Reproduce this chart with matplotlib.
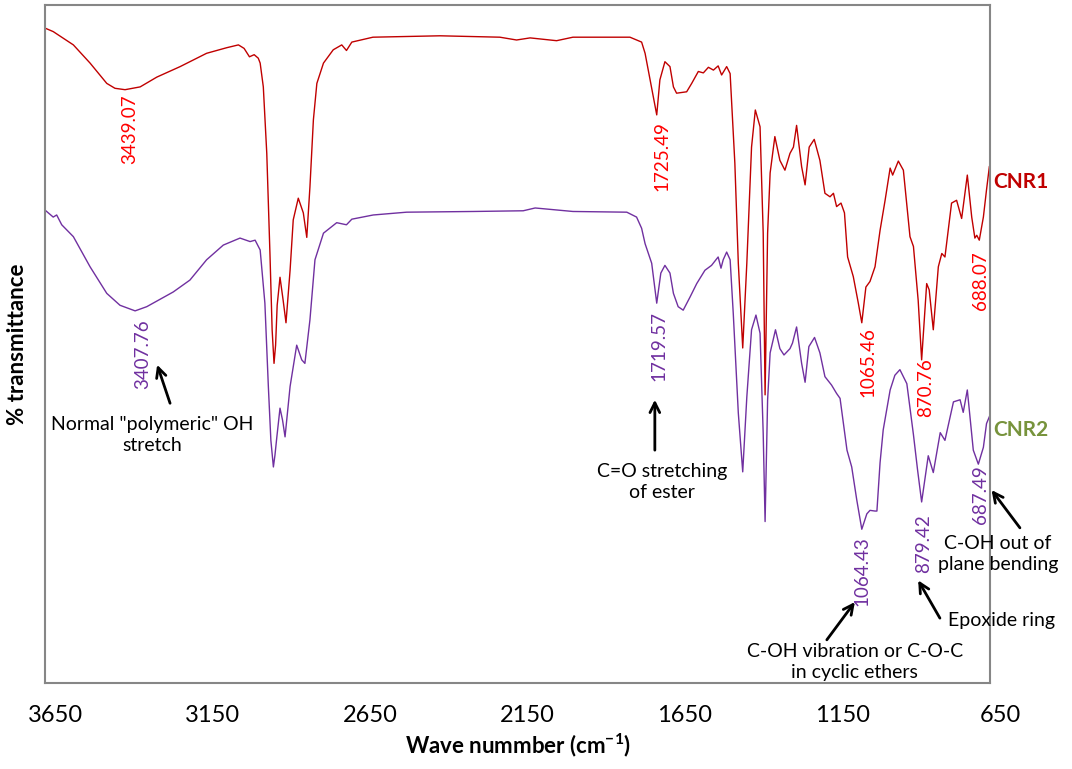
import matplotlib
matplotlib.use("Agg")
from matplotlib import pyplot as plt
from matplotlib.transforms import ScaledTranslation

plt.rcParams['font.family'] = ['Lato', 'DejaVu Sans']
plt.rcParams['mathtext.fontset'] = 'custom'
plt.rcParams['mathtext.rm'] = 'Lato'
plt.rcParams['mathtext.bf'] = 'Lato:bold'

# CNR1 spectrum (wavenumber cm-1, % transmittance, arbitrary offset)
cnr1_wn = [3650, 3624, 3560, 3507, 3454, 3428, 3396, 3348, 3295, 3221, 3137, 3073,
           3036, 3018, 3001, 2986, 2973, 2967, 2957, 2946, 2936, 2929, 2923, 2918,
           2913, 2904, 2894, 2885, 2872, 2862, 2846, 2830, 2819, 2809, 2798, 2787,
           2766, 2735, 2708, 2693, 2676, 2609, 2396, 2206, 2153, 2110, 2026, 1974,
           1793, 1756, 1745, 1729, 1719, 1708, 1698, 1682, 1666, 1655, 1645, 1613,
           1597, 1576, 1560, 1544, 1528, 1513, 1502, 1486, 1475, 1460, 1449, 1435,
           1422, 1407, 1395, 1380, 1370, 1364, 1356, 1348, 1333, 1317, 1301, 1285,
           1274, 1264, 1248, 1237, 1224, 1208, 1190, 1174, 1158, 1147, 1137, 1123,
           1112, 1102, 1084, 1068, 1057, 1044, 1031, 1015, 999, 983, 967, 959, 941,
           925, 904, 893, 878, 867, 851, 843, 830, 814, 803, 793, 772, 756, 740,
           722, 708, 698, 692, 684, 671, 661, 652]
cnr1_t = [96.0, 95.5, 93.6, 91.0, 88.1, 87.4, 87.2, 87.6, 89.0, 90.5, 92.4, 93.2,
          93.6, 93.1, 91.9, 92.2, 91.7, 91.0, 87.6, 78.1, 63.9, 52.9, 48.1, 50.7,
          56.4, 60.4, 57.1, 53.9, 61.4, 68.6, 71.7, 69.6, 66.1, 73.3, 82.9, 88.1,
          91.0, 92.9, 93.6, 92.8, 94.0, 94.7, 94.9, 94.7, 94.3, 94.6, 94.2, 94.7,
          94.7, 94.0, 92.4, 88.6, 86.2, 83.6, 88.6, 91.2, 90.5, 87.6, 86.7, 86.9,
          88.1, 89.8, 89.6, 90.4, 90.0, 90.6, 89.3, 90.5, 89.5, 76.7, 62.4, 50.3,
          62.4, 79.0, 84.3, 81.9, 66.7, 43.6, 66.7, 75.3, 80.5, 77.1, 75.7, 78.1,
          79.0, 82.1, 76.2, 73.6, 79.0, 80.1, 77.1, 72.4, 71.9, 72.4, 70.5, 71.0,
          69.6, 63.3, 60.5, 56.7, 53.9, 59.0, 59.8, 61.9, 67.1, 71.4, 76.0, 75.0, 77.0,
          75.7, 66.2, 64.8, 57.1, 48.6, 59.5, 58.6, 52.9, 61.9, 63.8, 63.3, 71.0, 71.4, 68.8,
          75.0, 69.0, 66.0, 66.4, 65.7, 69.0, 72.9, 76.2]

# CNR2 spectrum
cnr2_wn = [3650, 3624, 3613, 3597, 3560, 3507, 3454, 3412, 3364, 3327, 3243, 3190,
           3137, 3084, 3031, 2999, 2983, 2967, 2952, 2941, 2933, 2925, 2920, 2914,
           2904, 2896, 2888, 2872, 2851, 2835, 2825, 2809, 2793, 2766, 2724, 2693,
           2676, 2608, 2502, 2290, 2132, 2094, 1974, 1803, 1772, 1756, 1745, 1724,
           1708, 1695, 1682, 1666, 1655, 1640, 1624, 1602, 1581, 1555, 1534, 1513,
           1504, 1497, 1486, 1475, 1465, 1449, 1435, 1422, 1407, 1393, 1380, 1370,
           1364, 1356, 1348, 1331, 1317, 1304, 1285, 1277, 1264, 1248, 1237, 1225,
           1207, 1190, 1174, 1153, 1137, 1126, 1104, 1089, 1073, 1057, 1041, 1031,
           1015, 1009, 999, 989, 967, 952, 936, 914, 893, 880, 867, 846, 830, 808,
           793, 766, 745, 735, 722, 703, 687, 671, 661, 650]
cnr2_t = [70.0, 69.0, 69.3, 67.9, 66.2, 61.9, 58.1, 56.4, 55.6, 56.2, 58.3, 60.0,
          62.9, 65.0, 66.0, 65.5, 65.7, 64.3, 56.7, 44.8, 37.1, 33.3, 35.0, 37.6,
          41.7, 40.0, 37.6, 44.8, 50.7, 48.6, 48.1, 54.3, 62.9, 66.7, 68.2, 67.9,
          68.7, 69.3, 69.7, 69.8, 69.9, 70.3, 69.8, 69.7, 69.0, 67.4, 65.2, 62.4,
          56.7, 61.0, 62.1, 61.0, 58.1, 56.2, 55.7, 57.6, 59.5, 61.4, 62.1, 63.3,
          61.7, 62.9, 64.0, 62.9, 55.2, 41.0, 32.6, 43.3, 52.9, 55.0, 52.4, 38.1,
          25.5, 42.9, 49.6, 52.9, 50.2, 49.3, 50.2, 51.0, 53.3, 48.1, 45.4, 50.5,
          51.8, 49.6, 46.2, 45.0, 43.8, 43.1, 35.7, 33.3, 28.6, 24.4, 26.6, 27.1,
          27.0, 27.0, 33.9, 38.6, 44.3, 46.4, 47.2, 45.2, 37.9, 32.9, 28.3, 34.9, 32.5, 38.2,
          37.1, 42.6, 42.9, 41.1, 44.3, 35.7, 33.7, 36.1, 39.5, 40.7]

# peak labels: text, wavenumber, transmittance
cnr1_peaks = [("3439.07", 3380, 81.6), ("1725.49", 1692, 77.7), ("1065.46", 1037, 48.3),
              ("870.76", 853, 44.6), ("688.07", 679, 59.9)]
cnr2_peaks = [("3407.76", 3339, 49.4), ("1719.57", 1701, 50.6), ("1064.43", 1056, 18.4),
              ("879.42", 860, 22.4), ("687.49", 679, 29.4)]

# assignments: text, text position, arrow tail, arrow head
notes = [
    ('Normal "polymeric" OH\nstretch', (3310, 37.9), (3253, 42.4), (3294, 47.9)),
    ("C=O stretching\nof ester", (1692, 31.1), (1714, 35.7), (1714, 42.9)),
    ("C-OH vibration or C-O-C\nin cyclic ethers", (1079, 5.4), (1168, 8.6), (1079, 14.0)),
    ("Epoxide ring", (613, 11.4), (809, 11.7), (878, 17.1)),
    ("C-OH out of\nplane bending", (625, 20.9), (555, 24.6), (645, 30.0)),
]

xticks = [3650, 3150, 2650, 2150, 1650, 1150, 650]

red = '#C00000'
purple = '#7030A0'

fig = plt.figure(figsize=(10.72, 7.69), dpi=100)
ax = fig.add_axes([0.042, 0.1118, 0.8815, 0.8817])

ax.plot(cnr1_wn, cnr1_t, color=red, lw=1.0)
ax.plot(cnr2_wn, cnr2_t, color=purple, lw=1.0)

for txt, x, y in cnr1_peaks:
    ax.text(x, y, txt, rotation=90, color='#FF0000', fontsize=13.5, ha='center', va='center')
for txt, x, y in cnr2_peaks:
    ax.text(x, y, txt, rotation=90, color=purple, fontsize=13.5, ha='center', va='center')

for txt, pos, tail, head in notes:
    ax.text(pos[0], pos[1], txt, fontsize=14, ha='center', va='center', linespacing=1.3)
    ax.annotate("", xy=head, xytext=tail, annotation_clip=False,
                arrowprops=dict(arrowstyle='->,head_length=0.7,head_width=0.35',
                                color='black', lw=2, shrinkA=0, shrinkB=0))

ax.text(640, 74, "CNR1", color=red, fontsize=15, fontweight='bold', va='center', ha='left')
ax.text(640, 38.6, "CNR2", color='#77933C', fontsize=15, fontweight='bold', va='center', ha='left')

ax.set_xlim(3650, 650)
ax.set_ylim(2.43, 99.3)
ax.set_xticks(xticks)
ax.set_xticklabels([str(t) for t in xticks], fontsize=17)
ax.tick_params(axis='x', length=0, pad=16)
ax.set_yticks([])
for lab in ax.get_xticklabels():
    lab.set_transform(lab.get_transform() + ScaledTranslation(0.1, 0, fig.dpi_scale_trans))

for sp in ax.spines.values():
    sp.set_color('#868686')
    sp.set_linewidth(1.5)

ax.set_xlabel(r"Wave nummber (cm$^{\mathbf{-1}}$)", fontsize=16, fontweight='bold', labelpad=4)
ax.set_ylabel("% transmittance", fontsize=16, fontweight='bold', labelpad=12)

fig.savefig("out.png", dpi=100)
